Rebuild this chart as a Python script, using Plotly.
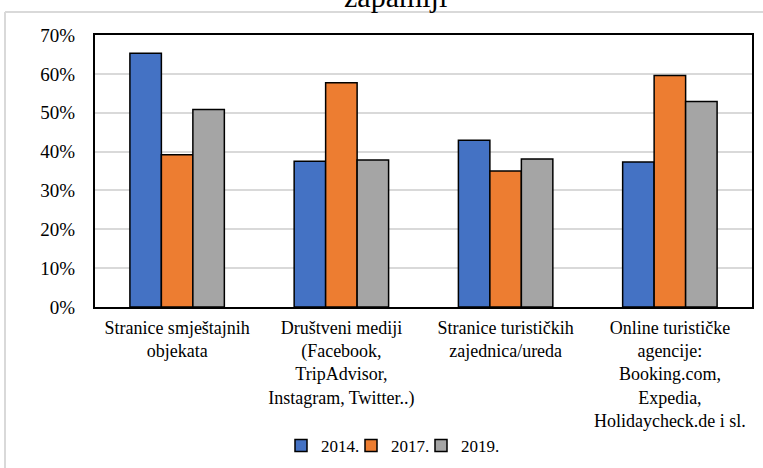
import plotly.graph_objects as go

categories = [
    "Stranice smještajnih<br>objekata",
    "Društveni mediji<br>(Facebook,<br>TripAdvisor,<br>Instagram, Twitter..)",
    "Stranice turističkih<br>zajednica/ureda",
    "Online turističke<br>agencije:<br>Booking.com,<br>Expedia,<br>Holidaycheck.de i sl.",
]
series_names = ["2014.", "2017.", "2019."]
v2014 = [0.653, 0.375, 0.429, 0.373]
v2017 = [0.392, 0.577, 0.350, 0.596]
v2019 = [0.508, 0.378, 0.381, 0.529]
colors = ["#4472C4", "#ED7D31", "#A5A5A5"]
y_ticks = [0, 0.1, 0.2, 0.3, 0.4, 0.5, 0.6, 0.7]
title_fragment = "zapamiji"

W, H = 763, 468
L, R, T, B = 95, 11, 35, 161
pw, ph = W - L - R, H - T - B

def px(x):
    return (x - L) / pw

def py(y):
    return (H - B - y) / ph

fig = go.Figure()
for name, vals, col in zip(series_names, [v2014, v2017, v2019], colors):
    fig.add_trace(go.Bar(
        x=categories, y=vals, name=name,
        marker=dict(color=col, line=dict(color="#000000", width=1.5)),
    ))
# empty spacer legend entry (no marks) so the last legend label is not clipped
fig.add_trace(go.Scatter(x=[None], y=[None], name=" ", mode="markers", hoverinfo="skip",
                         marker=dict(color="rgba(0,0,0,0)", size=1)))

serif = "Liberation Serif"
fig.update_layout(
    width=W, height=H,
    margin=dict(l=L, r=R, t=T, b=B, pad=0, autoexpand=False),
    paper_bgcolor="white", plot_bgcolor="white",
    barmode="group", bargap=0.425, bargroupgap=0,
    font=dict(family=serif, size=17, color="#000000"),
    showlegend=True,
    legend=dict(orientation="h", x=281 / W, xanchor="left", xref="container",
                y=(H - 446) / H, yanchor="middle", yref="container",
                font=dict(family=serif, size=17, color="#000000"),
                itemwidth=30, entrywidth=25, entrywidthmode="pixels",
                traceorder="normal", bgcolor="rgba(0,0,0,0)"),
    xaxis=dict(showline=True, linecolor="#000000", linewidth=2, mirror=True,
               ticks="", tickfont=dict(family=serif, size=18, color="#000000"),
               ticklabelstandoff=3, fixedrange=True),
    yaxis=dict(range=[0, 0.7], tickvals=y_ticks, tickformat=".0%",
               showgrid=True, gridcolor="#D9D9D9", gridwidth=1.5,
               showline=True, linecolor="#000000", linewidth=2, mirror=True,
               ticks="", ticklabelstandoff=14, zeroline=False,
               tickfont=dict(family=serif, size=19, color="#000000"), fixedrange=True),
    shapes=[
        dict(type="line", xref="paper", yref="paper", x0=px(5), x1=px(763), y0=py(12), y1=py(12),
             line=dict(color="#D9D9D9", width=2)),
        dict(type="line", xref="paper", yref="paper", x0=px(5), x1=px(5), y0=py(12), y1=py(470),
             line=dict(color="#D9D9D9", width=2)),
    ],
    annotations=[
        dict(text=title_fragment, xref="paper", yref="paper", x=px(395), y=py(-4),
             xanchor="center", yanchor="middle", showarrow=False,
             font=dict(family=serif, size=30, color="#000000")),
    ],
)

fig.write_html("out.html")
